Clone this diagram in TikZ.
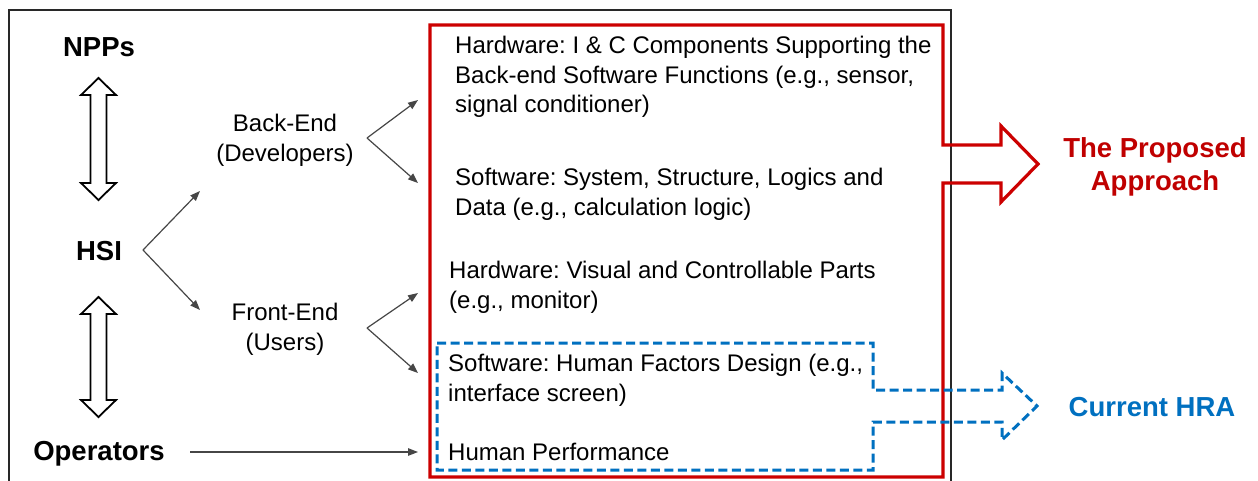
\documentclass[tikz,border=0pt]{standalone}
\usepackage{fontspec}
\setmainfont{Liberation Sans}
\usetikzlibrary{arrows.meta}
\definecolor{propred}{RGB}{204,0,0}
\definecolor{proptext}{RGB}{192,0,0}
\definecolor{hrablue}{RGB}{0,112,192}
\definecolor{framegray}{RGB}{40,40,40}
\definecolor{thinline}{RGB}{70,70,70}
\frenchspacing
\begin{document}
\begin{tikzpicture}[x=1pt,y=-1pt,
  body/.style={font=\fontsize{24}{29.5}\selectfont, inner sep=0pt, align=left, anchor=north west},
  side/.style={font=\fontsize{24}{30}\selectfont, inner sep=0pt, align=center, anchor=north},
  actor/.style={font=\bfseries\fontsize{27.5}{33}\selectfont, inner sep=0pt, anchor=base},
  flow/.style={draw=thinline, line width=1.2pt, -{Triangle[length=10pt,width=7.5pt]}},
  hollow/.style={draw=black, line width=1.8pt, fill=white, line join=miter},
  scopebox/.style={draw=propred, line width=3.2pt, line join=miter},
  hrabox/.style={draw=hrablue, line width=3pt, dash pattern=on 9pt off 4.5pt, line join=miter},
]
\useasboundingbox[fill=white] (0,0) rectangle (1258,480);

% outer frame (open at the bottom)
\draw[framegray, line width=2pt] (9,484) -- (9,10) -- (951,10) -- (951,484);

% actors
\node[actor] (npps) at (99,56) {NPPs};
\node[actor] (hsi) at (99,260) {HSI};
\node[actor] (ops) at (99,460) {Operators};

% two-way links between actors
\draw[hollow] (98.5,78) -- (116,95) -- (106.5,95) -- (106.5,183) -- (116,183) -- (98.5,200)
  -- (81,183) -- (90.5,183) -- (90.5,95) -- (81,95) -- cycle;
\draw[hollow] (98.5,297) -- (116,314) -- (106.5,314) -- (106.5,400) -- (116,400) -- (98.5,417)
  -- (81,400) -- (90.5,400) -- (90.5,314) -- (81,314) -- cycle;

% HSI ends
\node[side] (back) at (285,110.6) {\strut Back-End\\(Developers)};
\node[side] (front) at (285,299.6) {\strut Front-End\\(Users)};

% elements
\node[body] (hw1) at (455,33) {\strut Hardware: I \& C Components Supporting the\\Back-end Software Functions (e.g., sensor,\\signal conditioner)};
\node[body] (sw1) at (455,165) {\strut Software: System, Structure, Logics and\\Data (e.g., calculation logic)};
\node[body] (hw2) at (449,258) {\strut Hardware: Visual and Controllable Parts\\(e.g., monitor)};
\node[body] (sw2) at (448,351) {\strut Software: Human Factors Design (e.g.,\\interface screen)};
\node[body] (hp) at (448,440) {\strut Human Performance};

% arrow end points
\coordinate (hsiR) at (143,250);
\coordinate (backIn) at (200,191);
\coordinate (frontIn) at (200,310);
\coordinate (backR) at (367,138);
\coordinate (frontR) at (367,328);
\coordinate (hw1In) at (418,100);
\coordinate (sw1In) at (418,183);
\coordinate (hw2In) at (418,293);
\coordinate (sw2In) at (418,373);
\coordinate (opsR) at (190,452);
\coordinate (hpIn) at (418,452);

\draw[flow] (hsiR) -- (backIn);
\draw[flow] (hsiR) -- (frontIn);
\draw[flow] (backR) -- (hw1In);
\draw[flow] (backR) -- (sw1In);
\draw[flow] (frontR) -- (hw2In);
\draw[flow] (frontR) -- (sw2In);
\draw[flow] (opsR) -- (hpIn);

% scope of the proposed approach, with its outgoing block arrow
\draw[scopebox] (430,25) -- (943,25) -- (943,145) -- (1001,145) -- (1001,126) -- (1038,164)
  -- (1001,202) -- (1001,183) -- (943,183) -- (943,477) -- (430,477) -- cycle;
\node[font=\bfseries\fontsize{27.5}{33}\selectfont, text=proptext, align=center, inner sep=0pt, anchor=north]
  (prop) at (1155,133.9) {\strut The Proposed\\Approach};

% scope of current HRA, with its outgoing block arrow
\draw[hrabox] (437,343) -- (873,343) -- (873,390) -- (1002,390) -- (1002,373) -- (1037,406)
  -- (1002,440) -- (1002,422) -- (873,422) -- (873,470) -- (437,470) -- cycle;
\node[actor, text=hrablue] (hra) at (1152,416) {Current HRA};
\end{tikzpicture}
\end{document}
